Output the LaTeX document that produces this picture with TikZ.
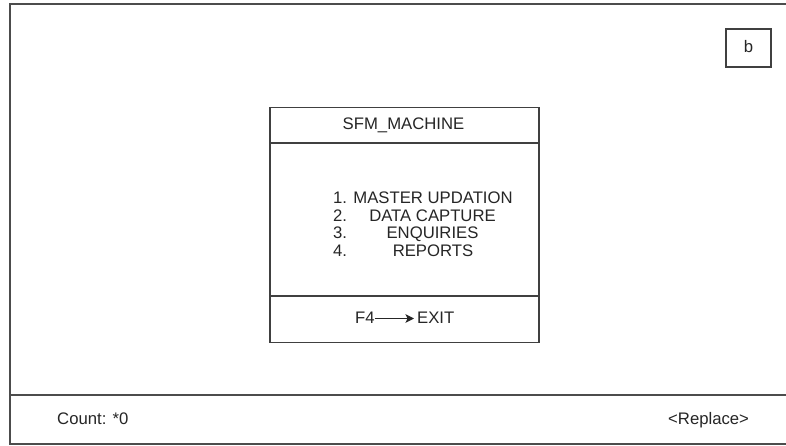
\documentclass[tikz,border=0pt]{standalone}
\usepackage{fontspec}
\setmainfont{Liberation Sans}
\usetikzlibrary{arrows.meta}
\begin{document}
\begin{tikzpicture}[x=1pt,y=1pt,
  frame/.style={draw=black!70,line width=1.7pt},
  boxline/.style={draw=black!75,line width=1.5pt},
  txt/.style={inner sep=0pt,anchor=base,text=black!85,font=\fontsize{16.7}{18}\selectfont},
  txtl/.style={txt,anchor=base west},
  arr/.style={draw=black!85,line width=1.3pt,-{Stealth[length=8.5pt,width=8.5pt,inset=2pt]}}]
\useasboundingbox (0,0) rectangle (786,446);
\clip (0,0) rectangle (786,446);
\fill[white] (0,0) rectangle (786,446);
% outer frame
\draw[frame] (10,2) rectangle (795,442);
\draw[frame] (10,51) -- (795,51);
% b box
\node[boxline,minimum width=45pt,minimum height=38pt,inner sep=0pt] (bbox) at (748.5,398) {};
\node[txt] (btext) at (748.5,393) {b};
% central box
\node[boxline,minimum width=269pt,minimum height=235pt,inner sep=0pt,anchor=north west] (box) at (269,339) {};
\draw[boxline] (269,303) -- (538,303);
\draw[boxline] (269,150) -- (538,150);
\node[txt] (title) at (403.5,316) {SFM\_MACHINE};
% menu
\node[txtl] (n1) at (333,242) {1.};
\node[txtl] (n2) at (333,224.5) {2.};
\node[txtl] (n3) at (333,207) {3.};
\node[txtl] (n4) at (333,189.5) {4.};
\node[txt] (m1) at (433,242) {MASTER UPDATION};
\node[txt] (m2) at (432.5,224.5) {DATA CAPTURE};
\node[txt] (m3) at (432.5,207) {ENQUIRIES};
\node[txt] (m4) at (433,189.5) {REPORTS};
% exit
\node[txtl] (f4) at (355,122) {F4};
\node[txtl] (exit) at (417,122) {EXIT};
\draw[arr] ([yshift=5.5pt]f4.base east) -- ([xshift=-3pt,yshift=5.5pt]exit.base west);
% footer
\node[txtl] (count) at (57,21) {Count: *0};
\node[txtl] (replace) at (668,21) {<Replace>};
\end{tikzpicture}
\end{document}
